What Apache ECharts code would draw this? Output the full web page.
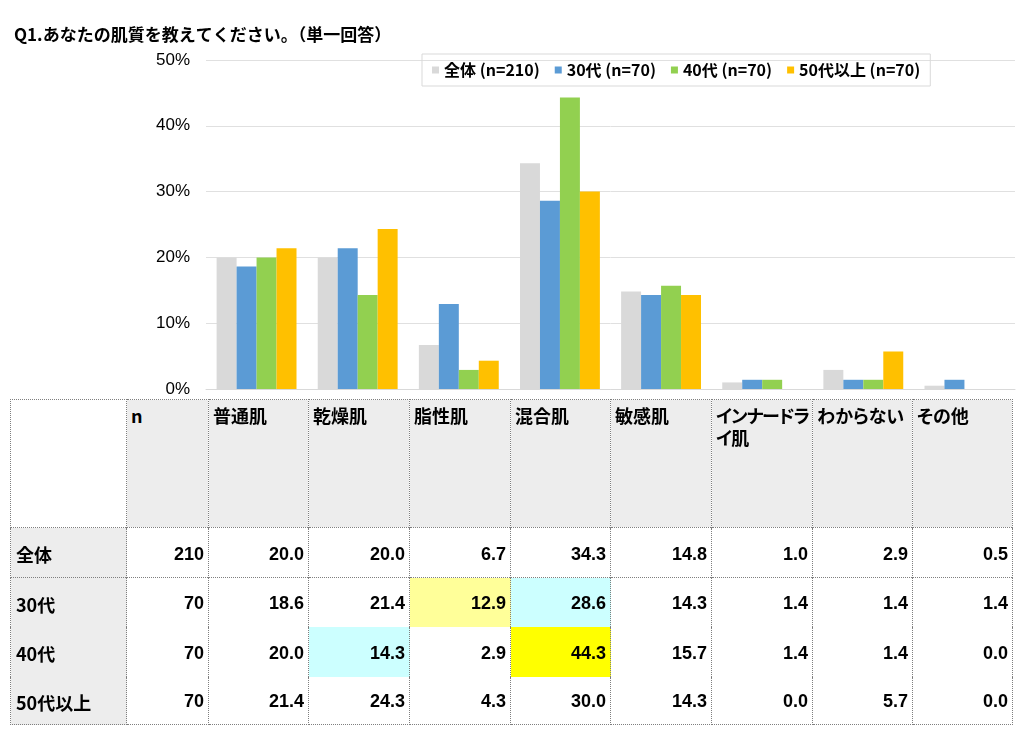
<!DOCTYPE html>
<html>
<head>
<meta charset="utf-8">
<script src="https://cdn.jsdelivr.net/npm/echarts@6/dist/echarts.min.js"></script>
<style>
  html, body { margin: 0; padding: 0; background: #fff; }
  #wrap { position: relative; width: 1024px; height: 736px; overflow: hidden; }
  #chart { position: absolute; left: 0; top: 0; width: 1024px; height: 400px; }
  #tbl { position: absolute; left: 10px; top: 399px; border-collapse: collapse; table-layout: fixed; }
  #tbl td { border-left: 1px dotted #7f7f7f; border-right: 1px dotted #7f7f7f; padding: 0; box-sizing: border-box; }
  #tbl tr.bt td { border-top: 1px dotted #7f7f7f; }
  #tbl tr.bb td { border-bottom: 1px dotted #7f7f7f; }
  #tbl td.hd { background: #ededed; vertical-align: top; font-family: "Noto Sans CJK JP", sans-serif; font-weight: bold; font-size: 18px; line-height: 22px; padding: 4px 0 0 4px; font-feature-settings: "palt"; color: #000; white-space: nowrap; overflow: hidden; }
  #tbl td.hd.tight { letter-spacing: -1px; }
  #tbl td.rl { background: #ededed; font-family: "Noto Sans CJK JP", sans-serif; font-weight: bold; font-size: 18px; padding-left: 5px; padding-top: 3px; font-feature-settings: "palt"; color: #000; }
  #tbl td.num { text-align: right; font-family: "Liberation Sans", Arial, sans-serif; font-size: 18px; font-weight: bold; padding-right: 4px; padding-top: 3px; color: #000; }
  #tbl td.blank { background: #fff; }
</style>
</head>
<body>
<div id="wrap">
  <div id="chart"></div>
  <table id="tbl"></table>
</div>
<script>
// ---- data ----
const title = 'Q1.あなたの肌質を教えてください。（単一回答）';
const categories = ['普通肌', '乾燥肌', '脂性肌', '混合肌', '敏感肌', 'インナードライ肌', 'わからない', 'その他'];
const seriesNames = ['全体 (n=210)', '30代 (n=70)', '40代 (n=70)', '50代以上 (n=70)'];
const rowLabels = ['全体', '30代', '40代', '50代以上'];
const nValues = [210, 70, 70, 70];
const totalValues = [20.0, 20.0, 6.7, 34.3, 14.8, 1.0, 2.9, 0.5];
const age30Values = [18.6, 21.4, 12.9, 28.6, 14.3, 1.4, 1.4, 1.4];
const age40Values = [20.0, 14.3, 2.9, 44.3, 15.7, 1.4, 1.4, 0.0];
const age50Values = [21.4, 24.3, 4.3, 30.0, 14.3, 0.0, 5.7, 0.0];
const yTicks = [0, 10, 20, 30, 40, 50];
// highlighted table cells: [row index, category index, colour]
const highlights = [[1, 2, '#ffff99'], [1, 3, '#ccffff'], [2, 1, '#ccffff'], [2, 3, '#ffff00']];

// ---- styles / layout ----
const colors = ['#d9d9d9', '#5b9bd5', '#92d050', '#ffc000'];
const colWidths = [116, 82, 100, 101, 101, 100, 101, 101, 100, 100];
const rowHeights = [128, 50, 49, 50, 48];
const allValues = [totalValues, age30Values, age40Values, age50Values];

const chart = echarts.init(document.getElementById('chart'));
chart.setOption({
  animation: false,
  title: {
    text: title, left: 14, top: 26, padding: 0,
    textStyle: { fontFamily: 'Noto Sans CJK JP', fontWeight: 'bold', fontSize: 17, color: '#000' }
  },
  legend: {
    data: seriesNames, left: 422, top: 54,
    padding: [8, 10, 8, 10], itemWidth: 7, itemHeight: 7, itemGap: 15,
    borderColor: '#d9d9d9', borderWidth: 1,
    icon: 'rect',
    textStyle: { fontFamily: 'Noto Sans CJK JP', fontWeight: 'bold', fontSize: 16, color: '#000' }
  },
  grid: { left: 206, right: 9, top: 60, bottom: 11 },
  xAxis: {
    type: 'category', data: categories,
    axisLine: { lineStyle: { color: '#d9d9d9', width: 1 } },
    axisTick: { show: false }, axisLabel: { show: false }
  },
  yAxis: {
    type: 'value', min: yTicks[0], max: yTicks[yTicks.length - 1], interval: 10,
    axisLine: { show: false }, axisTick: { show: false },
    splitLine: { lineStyle: { color: '#e0e0e0', width: 1 } },
    axisLabel: { formatter: '{value}%', margin: 16, fontFamily: 'Liberation Sans', fontSize: 17, color: '#000' }
  },
  series: seriesNames.map((name, i) => ({
    name, type: 'bar', data: allValues[i],
    barGap: '0%', barCategoryGap: '21%',
    itemStyle: { color: colors[i] }
  }))
});

// ---- table ----
const tbl = document.getElementById('tbl');
const colgroup = document.createElement('colgroup');
colWidths.forEach(w => { const c = document.createElement('col'); c.style.width = w + 'px'; colgroup.appendChild(c); });
tbl.appendChild(colgroup);
tbl.style.width = colWidths.reduce((a, b) => a + b, 0) + 'px';

const hr = document.createElement('tr');
hr.className = 'bt';
hr.style.height = rowHeights[0] + 'px';
const blank = document.createElement('td'); blank.className = 'blank'; hr.appendChild(blank);
const nh = document.createElement('td'); nh.className = 'hd'; nh.textContent = 'n'; hr.appendChild(nh);
categories.forEach(c => {
  const td = document.createElement('td'); td.className = 'hd';
  if (c === 'インナードライ肌') { td.className = 'hd tight'; td.innerHTML = 'インナードラ<br>イ肌'; } else { td.textContent = c; }
  hr.appendChild(td);
});
tbl.appendChild(hr);

rowLabels.forEach((lab, r) => {
  const tr = document.createElement('tr');
  if (r <= 1) tr.className = 'bt';
  if (r === rowLabels.length - 1) tr.className += ' bb';
  tr.style.height = rowHeights[r + 1] + 'px';
  const l = document.createElement('td'); l.className = 'rl'; l.textContent = lab; tr.appendChild(l);
  const n = document.createElement('td'); n.className = 'num'; n.textContent = nValues[r]; tr.appendChild(n);
  allValues[r].forEach((v, c) => {
    const td = document.createElement('td'); td.className = 'num'; td.textContent = v.toFixed(1);
    const h = highlights.find(x => x[0] === r && x[1] === c);
    if (h) td.style.background = h[2];
    tr.appendChild(td);
  });
  tbl.appendChild(tr);
});
</script>
</body>
</html>
